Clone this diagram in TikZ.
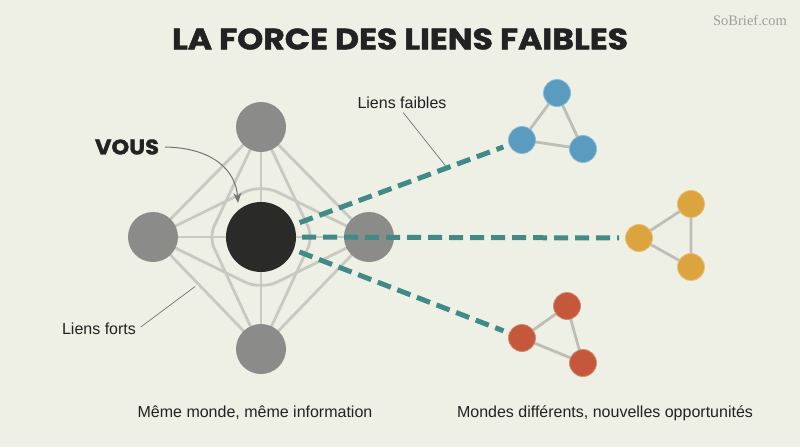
\documentclass[tikz,border=0pt]{standalone}
\usepackage{fontspec}
\setmainfont{Liberation Sans}
\newfontfamily\titlefont{Poppins}[BoldFeatures={FakeBold=1.5}]
\newfontfamily\logofont{Liberation Serif}
\usetikzlibrary{arrows.meta,calc}
\pgfdeclarelayer{bglayer}
\pgfsetlayers{bglayer,main}
\definecolor{bgc}{HTML}{EEEFE5}
\definecolor{linegrey}{HTML}{C9C9C3}
\definecolor{nodegrey}{HTML}{8B8B89}
\definecolor{darknode}{HTML}{2A2A28}
\definecolor{teal}{HTML}{3F8B88}
\definecolor{bluec}{HTML}{5A9BC0}
\definecolor{yellowc}{HTML}{DBA43E}
\definecolor{redc}{HTML}{C5573B}
\definecolor{triedge}{HTML}{BEBEB6}
\definecolor{leadc}{HTML}{747471}
\definecolor{textc}{HTML}{222222}
\definecolor{logoc}{HTML}{A0A09A}
\begin{document}
\begin{tikzpicture}[x=1pt,y=-1pt,
  gnode/.style={circle,fill=nodegrey,minimum size=50pt,inner sep=0pt},
  younode/.style={circle,fill=darknode,minimum size=70pt,inner sep=0pt},
  small/.style={circle,fill=#1,draw=#1!70!white,line width=0.8pt,minimum size=27pt,inner sep=0pt},
  strong/.style={draw=linegrey,line width=2.8pt},
  weak/.style={draw=teal,line width=5pt,dash pattern=on 14pt off 7pt,shorten <=6pt,shorten >=6pt},
  triline/.style={draw=triedge,line width=2.8pt},
  leader/.style={draw=leadc,line width=0.7pt},
  lbl/.style={font=\fontsize{16}{19}\selectfont,text=textc,inner sep=2pt}]
\begin{pgfonlayer}{bglayer}
\fill[bgc] (0,0) rectangle (800,447);
\end{pgfonlayer}
\useasboundingbox (0,0) rectangle (800,447);

% title and logo
\node[text=textc,inner sep=0pt] (title) at (400,39) {\resizebox{456pt}{21pt}{\titlefont\bfseries LA FORCE DES LIENS FAIBLES}};
\node[text=logoc,font=\logofont\fontsize{14.5}{18}\selectfont] (logo) at (750,20) {SoBrief.com};

% central network
\node[gnode] (T) at (261,127) {};
\node[gnode] (L) at (153,237) {};
\node[gnode] (R) at (369,237) {};
\node[gnode] (B) at (261,349) {};
\node[younode] (C) at (261,237) {};

\coordinate (vl) at (209,237);
\coordinate (vr) at (313,237);
\coordinate (ht) at (261,184);
\coordinate (hb) at (261,290);

\begin{pgfonlayer}{bglayer}
\draw[strong] (T.center) -- (L.center);
\draw[strong] (L.center) -- (B.center);
\draw[strong] (B.center) -- (R.center);
\draw[strong] (R.center) -- (T.center);
\draw[strong] (T.center) -- (B.center);
\draw[strong] (L.center) -- (R.center);
\draw[strong,rounded corners=12pt] (T.center) -- (vl) -- (B.center);
\draw[strong,rounded corners=12pt] (T.center) -- (vr) -- (B.center);
\draw[strong,rounded corners=18pt] (L.center) -- (ht) -- (R.center);
\draw[strong,rounded corners=18pt] (L.center) -- (hb) -- (R.center);
\end{pgfonlayer}

% clusters
\node[small=bluec] (b1) at (522,140) {};
\node[small=bluec] (b2) at (557,93) {};
\node[small=bluec] (b3) at (583,149) {};
\node[small=yellowc] (y1) at (639,238) {};
\node[small=yellowc] (y2) at (691,204) {};
\node[small=yellowc] (y3) at (691,267) {};
\node[small=redc] (r1) at (522,338) {};
\node[small=redc] (r2) at (567,306) {};
\node[small=redc] (r3) at (583,363) {};
\begin{pgfonlayer}{bglayer}
\draw[triline] (b1.center) -- (b2.center) -- (b3.center) -- cycle;
\draw[triline] (y1.center) -- (y2.center) -- (y3.center) -- cycle;
\draw[triline] (r1.center) -- (r2.center) -- (r3.center) -- cycle;
\end{pgfonlayer}

% weak ties
\draw[weak] (C) -- (b1);
\draw[weak] (C) -- (y1);
\draw[weak] (C) -- (r1);

% labels
\node[text=textc,inner sep=0pt] (vous) at (127,147) {\resizebox{64pt}{15pt}{\titlefont\bfseries VOUS}};
\coordinate (va) at (238,203);
\draw[draw=leadc,line width=1pt,-{Stealth[length=10pt,width=8pt]}] (vous.east) ++(6,0) .. controls (215,148) and (236,172) .. (va);

\node[lbl] (lf) at (402,103) {Liens faibles};
\coordinate (wk) at ($(C)!0.713!(b1)$);
\draw[leader,shorten <=2pt,shorten >=2pt] (lf.south) -- (wk);

\node[lbl] (lfo) at (99,329) {Liens forts};
\coordinate (st) at ($(L)!0.42!(B)$);
\draw[leader,shorten <=3pt,shorten >=4pt] (lfo.east) -- (st);

\node[lbl] (m1) at (255,413) {Même monde, même information};
\node[lbl] (m2) at (605,413) {Mondes différents, nouvelles opportunités};
\end{tikzpicture}
\end{document}
